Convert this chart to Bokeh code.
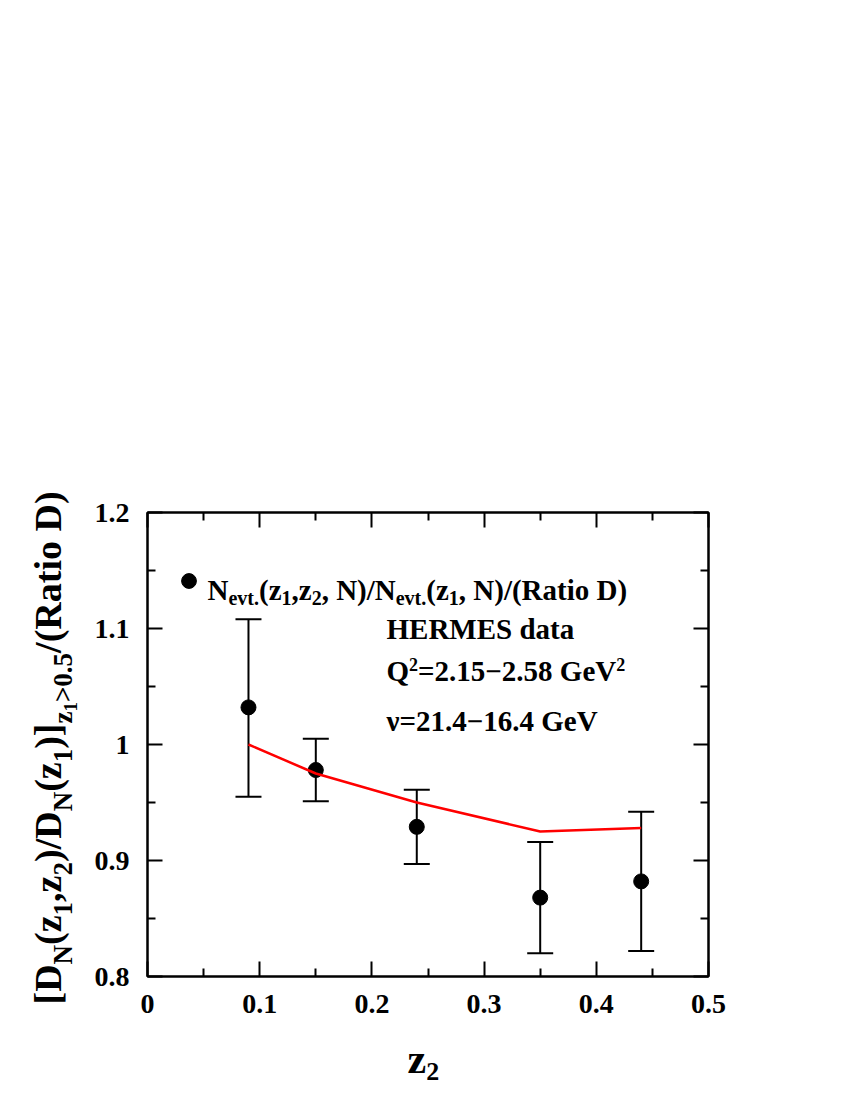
import math
from bokeh.plotting import figure
from bokeh.models import (Label, LinearAxis, FixedTicker, Legend, LegendItem, Range1d)
from bokeh.layouts import row, column
from bokeh.core.properties import value
from bokeh.embed import file_html
from bokeh.resources import INLINE

# ---------------- data ----------------
z2 = [0.09, 0.15, 0.24, 0.35, 0.44]
ratio = [1.032, 0.978, 0.929, 0.868, 0.882]
err_hi = [1.108, 1.005, 0.961, 0.916, 0.942]
err_lo = [0.955, 0.951, 0.897, 0.820, 0.822]
model_z2 = [0.09, 0.15, 0.24, 0.35, 0.44]
model_ratio = [1.000, 0.975, 0.950, 0.925, 0.928]

x_ticks = [0, 0.1, 0.2, 0.3, 0.4, 0.5]
x_tick_labels = ["0", "0.1", "0.2", "0.3", "0.4", "0.5"]
y_ticks = [0.8, 0.9, 1.0, 1.1, 1.2]
y_tick_labels = ["0.8", "0.9", "1", "1.1", "1.2"]

FONT = "Liberation Serif"

# geometry (page px)
FL, FT, FW, FH = 147, 512, 561, 464
FB = FT + FH
YW = 88                  # width of the y-title strip
PH = FB + 60             # height of the main row
TOTAL_W = 842
XH = 50                  # height of the x-title strip

p = figure(frame_width=FW, frame_height=FH,
           x_range=Range1d(0, 0.5), y_range=Range1d(0.8, 1.2),
           output_backend="svg", toolbar_location=None, frame_align=False,
           min_border_left=FL - YW, min_border_top=FT,
           min_border_right=TOTAL_W - FL - FW, min_border_bottom=PH - FB)
p.xgrid.grid_line_color = None
p.ygrid.grid_line_color = None
p.outline_line_color = "black"
p.outline_line_width = 2
p.background_fill_color = "white"
p.border_fill_color = "white"

p.add_layout(LinearAxis(), "above")
p.add_layout(LinearAxis(), "right")


def style_axis(ax, ticks, labels, show):
    minor = [(a + b) / 2 for a, b in zip(ticks[:-1], ticks[1:])]
    ax.ticker = FixedTicker(ticks=ticks, minor_ticks=minor)
    ax.major_label_overrides = dict(zip(ticks, labels))
    ax.axis_line_color = "black"
    ax.axis_line_width = 2
    ax.major_tick_in = 15
    ax.major_tick_out = 0
    ax.minor_tick_in = 8
    ax.minor_tick_out = 0
    ax.major_tick_line_width = 2
    ax.minor_tick_line_width = 2
    ax.major_tick_line_color = "black"
    ax.minor_tick_line_color = "black"
    ax.major_label_text_font = FONT
    ax.major_label_text_font_style = "bold"
    ax.major_label_text_font_size = "28px"
    ax.major_label_text_color = "black" if show else None
    ax.major_label_standoff = 18


style_axis(p.below[0], x_ticks, x_tick_labels, True)
style_axis(p.above[0], x_ticks, x_tick_labels, False)
style_axis(p.left[0], y_ticks, y_tick_labels, True)
style_axis(p.right[0], y_ticks, y_tick_labels, False)

# ---------------- glyphs ----------------
p.segment(x0=z2, y0=err_lo, x1=z2, y1=err_hi, line_width=2, line_color="black")
p.scatter(z2, err_hi, marker="dash", size=26, line_width=2, line_color="black")
p.scatter(z2, err_lo, marker="dash", size=26, line_width=2, line_color="black")
pts = p.scatter(z2, ratio, size=15, fill_color="black", line_color="black")
p.line(model_z2, model_ratio, line_width=2.5, line_color="red")

legend = Legend(items=[LegendItem(label=value(" "), renderers=[pts])],
                location=(22.5, 377.5), glyph_width=37, glyph_height=37,
                label_height=37, label_width=0, label_standoff=0,
                padding=0, margin=0, spacing=0,
                border_line_color=None, background_fill_alpha=0,
                label_text_font_size="1px")
p.add_layout(legend, "center")


def strip(w, h):
    f = figure(width=w, height=h, x_range=Range1d(0, w), y_range=Range1d(0, h),
               output_backend="svg", toolbar_location=None, frame_align=False,
               x_axis_location=None, y_axis_location=None, title=None,
               min_border=0, min_border_left=0, min_border_right=0,
               min_border_top=0, min_border_bottom=0)
    f.outline_line_color = None
    f.grid.grid_line_color = None
    f.background_fill_color = "white"
    f.border_fill_color = "white"
    return f


yfig = strip(YW, PH)
xfig = strip(TOTAL_W, XH)

# ---------------- rich text ----------------
W = {" ": 250, "(": 333, ")": 333, "[": 333, "]": 333, ",": 250, ".": 250,
     "/": 278, "=": 570, ">": 570, "\u2212": 570, "D": 722, "E": 667,
     "G": 778, "H": 778, "M": 944, "N": 722, "Q": 778, "R": 722, "S": 556,
     "V": 722, "a": 500, "d": 556, "e": 444, "i": 278, "o": 500, "t": 333,
     "v": 500, "z": 444, "\u03bd": 500}


def tw(s, size):
    return sum(W.get(c, 500) for c in s) * size / 1000.0


def add_run(fig, to_local, pieces, px, py, rotate=False):
    pos = 0.0
    for text, size, shift in pieces:
        if rotate:
            sx, sy = px + shift, py - pos
            ang = math.pi / 2
        else:
            sx, sy = px + pos, py + shift
            ang = 0
        lx, ly, units = to_local(sx, sy)
        fig.add_layout(Label(x=lx, y=ly, x_units=units, y_units=units,
                             text=text, angle=ang, text_font=FONT,
                             text_font_style="bold", text_font_size=f"{size}px",
                             text_color="black", text_baseline="alphabetic",
                             text_align="left"))
        pos += tw(text, size)


def in_main(sx, sy):
    return sx - FL, FB - sy, "screen"


def in_y(sx, sy):
    return sx, PH - sy, "data"


def in_x(sx, sy):
    return sx, PH + XH - sy, "data"


# y-axis title
S, s, ss = 38, 27, 19
add_run(yfig, in_y,
        [("[D", S, 0), ("N", s, 15), ("(z", S, 0), ("1", s, 15), (",z", S, 0),
         ("2", s, 15), (")/D", S, 0), ("N", s, 15), ("(z", S, 0), ("1", s, 15),
         (")]", S, 0), ("z", s, 15), ("1", ss, 23), (">0.5", s, 15),
         ("/(Ratio D)", S, 0)], 47, 1004, rotate=True)

# x-axis title
add_run(xfig, in_x, [("z", 42, 0), ("2", 26, 13)], 407, 1058)

# legend text
L, l = 29, 20
add_run(p, in_main,
        [("N", L, 0), ("evt.", l, 8), ("(z", L, 0), ("1", l, 8), (",z", L, 0),
         ("2", l, 8), (", N)/N", L, 0), ("evt.", l, 8), ("(z", L, 0), ("1", l, 8),
         (", N)/(Ratio D)", L, 0)], 207, 589)

# info text
add_run(p, in_main, [("HERMES data", 29, 0)], 386, 628)
add_run(p, in_main, [("Q", 29, 0), ("2", 18, -6), ("=2.15\u22122.58 GeV", 29, 0),
                     ("2", 18, -6)], 386, 670)
add_run(p, in_main, [("\u03bd=21.4\u221216.4 GeV", 29, 0)], 386, 720)

layout = column(row(yfig, p, spacing=0), xfig, spacing=0)
open("out.html", "w").write(file_html(layout, INLINE))
